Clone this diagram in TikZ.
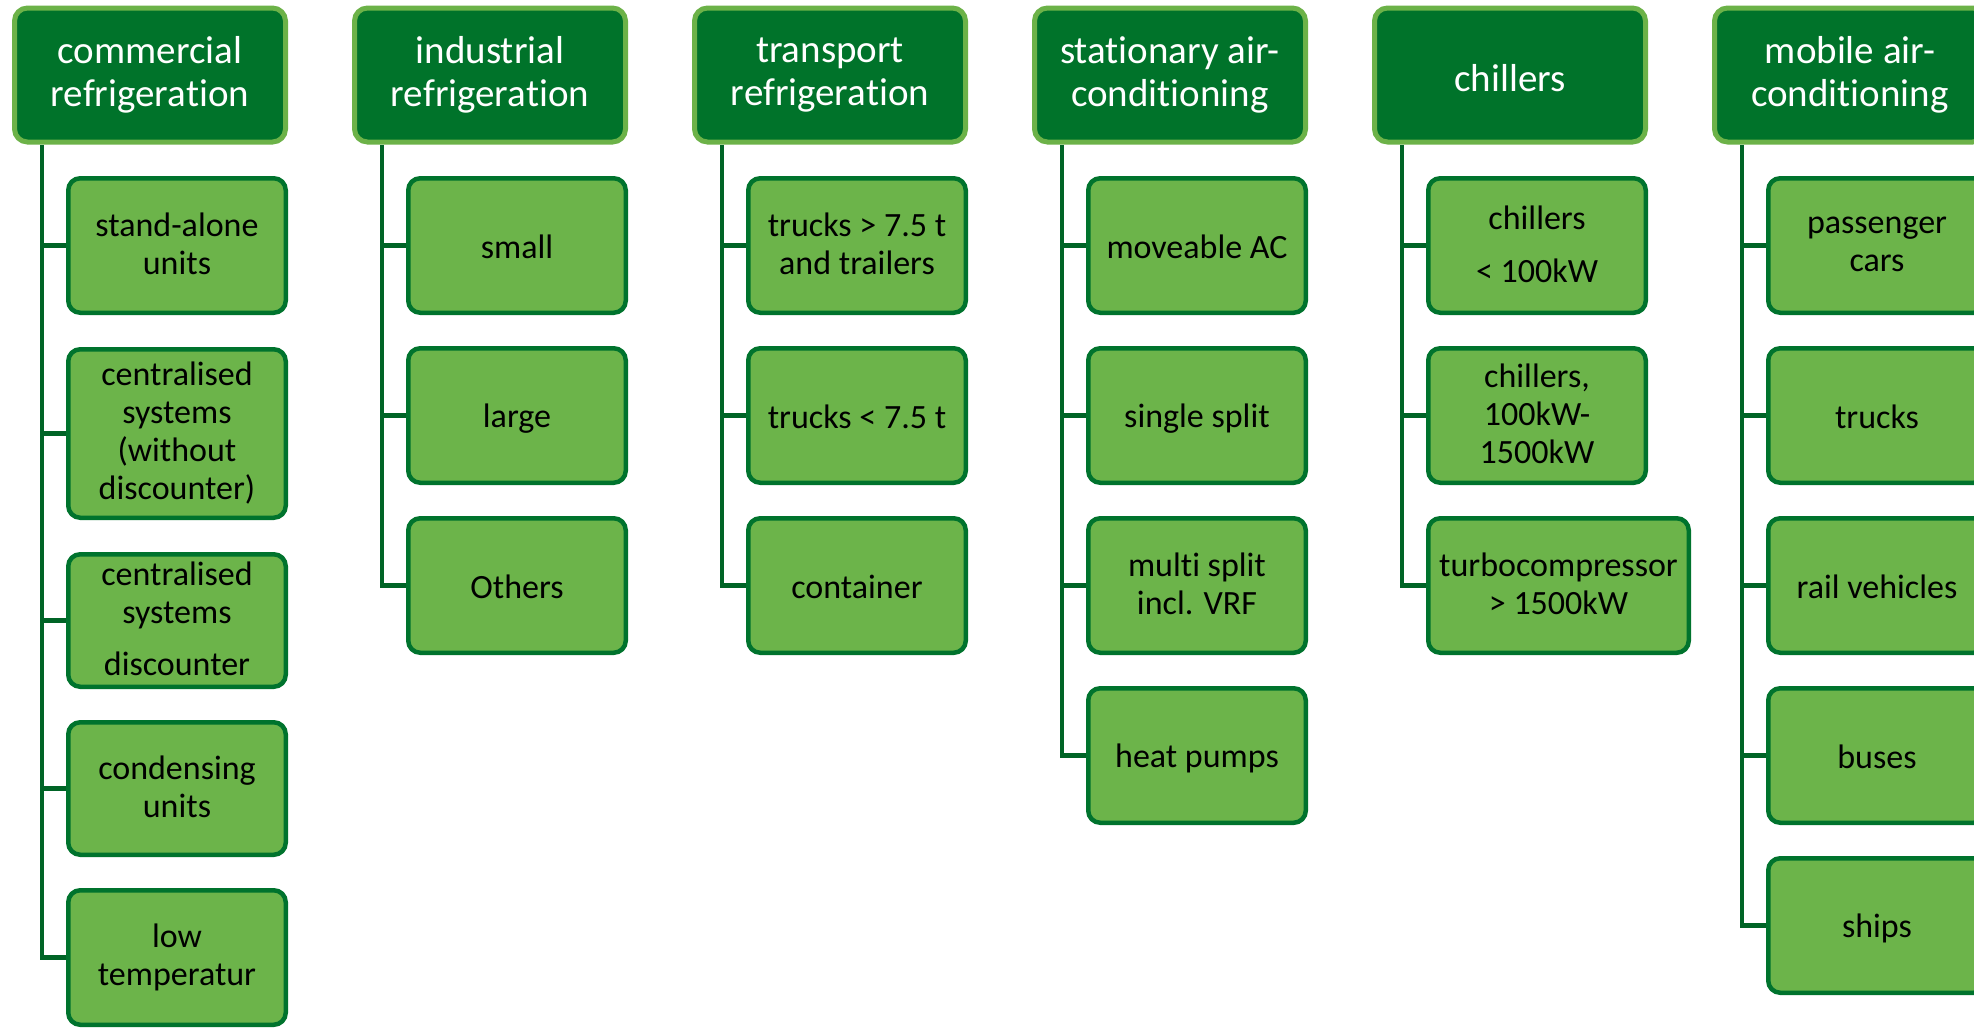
\documentclass[tikz,border=0pt]{standalone}
\usepackage{fontspec}
\setmainfont{Carlito}[Ligatures=NoCommon]
\definecolor{hdfill}{RGB}{0,115,42}
\definecolor{hdline}{RGB}{108,178,72}
\definecolor{itfill}{RGB}{108,180,74}
\definecolor{itline}{RGB}{0,115,45}
\definecolor{lnk}{RGB}{0,100,38}
\newcommand\mystrut{\rule[-0.1em]{0pt}{0.95em}}
\newcommand\hdstrut{\rule[-0.1em]{0pt}{1.05em}}
\tikzset{
  head/.style={rectangle, rounded corners=13pt, fill=hdfill, draw=hdline, line width=5pt,
    minimum width=271pt, minimum height=134pt, text=white,
    font=\fontsize{39}{43}\selectfont, align=center, inner sep=0pt,
    execute at begin node=\hdstrut, execute at end node=\mystrut},
  item/.style={rectangle, rounded corners=12pt, fill=itfill, draw=itline, line width=4.5pt,
    minimum width=217.5pt, minimum height=134.5pt, text=black,
    font=\fontsize{34}{38}\selectfont, align=center, inner sep=0pt,
    execute at begin node=\mystrut, execute at end node=\mystrut},
  link/.style={draw=lnk, line width=4.8pt}
}
\begin{document}
\begin{tikzpicture}[x=1pt,y=-1pt]
\useasboundingbox (0,0) rectangle (1974,1028);
\clip (0,0) rectangle (1974,1028);
\fill[white] (0,0) rectangle (1974,1028);

% column 0
\node[head] (h0) at (150,75) {commercial\\refrigeration};
\coordinate (v0) at (42,145);
\node[item] (c01) at (177,245.5) {stand-alone\\units};
\node[item, minimum height=168.5pt] (c02) at (177,433.5) {centralised\\systems\\(without\\discounter)};
\node[item, minimum height=132.5pt] (c03) at (177,620.5) {centralised\\systems\\[14pt]discounter};
\node[item, minimum height=132.5pt] (c04) at (177,788.5) {condensing\\units};
\node[item] (c05) at (177,957.5) {low\\temperatur};

% column 1
\node[head] (h1) at (490,75) {industrial\\refrigeration};
\coordinate (v1) at (382,145);
\node[item] (c11) at (517,245.5) {small};
\node[item] (c12) at (517,415.5) {large};
\node[item] (c13) at (517,585.5) {Others};

% column 2
\node[head] (h2) at (830,75) {transport\\refrigeration};
\coordinate (v2) at (722,145);
\node[item] (c21) at (857,245.5) {trucks > 7.5 t\\and trailers};
\node[item] (c22) at (857,415.5) {trucks < 7.5 t};
\node[item] (c23) at (857,585.5) {container};

% column 3
\node[head] (h3) at (1170,75) {stationary air-\\conditioning};
\coordinate (v3) at (1062,145);
\node[item] (c31) at (1197,245.5) {moveable AC};
\node[item] (c32) at (1197,415.5) {single split};
\node[item] (c33) at (1197,585.5) {multi split\\incl. VRF};
\node[item] (c34) at (1197,755.5) {heat pumps};

% column 4
\node[head] (h4) at (1510,75) {chillers};
\coordinate (v4) at (1402,145);
\node[item] (c41) at (1537,245.5) {chillers\\[15pt]< 100kW};
\node[item] (c42) at (1537,415.5) {chillers,\\100kW-\\1500kW};
\node[item, minimum width=260.5pt] (c43) at (1558.5,585.5) {turbocompressor\\> 1500kW};

% column 5
\node[head] (h5) at (1850,75) {mobile air-\\conditioning};
\coordinate (v5) at (1742,145);
\node[item] (c51) at (1877,245.5) {passenger\\cars};
\node[item] (c52) at (1877,415.5) {trucks};
\node[item] (c53) at (1877,585.5) {rail vehicles};
\node[item] (c54) at (1877,755.5) {buses};
\node[item] (c55) at (1877,925.5) {ships};

% connectors
\foreach \c in {c01,c02,c03,c04,c05} \draw[link] (v0) |- (\c.west);
\foreach \c in {c11,c12,c13} \draw[link] (v1) |- (\c.west);
\foreach \c in {c21,c22,c23} \draw[link] (v2) |- (\c.west);
\foreach \c in {c31,c32,c33,c34} \draw[link] (v3) |- (\c.west);
\foreach \c in {c41,c42,c43} \draw[link] (v4) |- (\c.west);
\foreach \c in {c51,c52,c53,c54,c55} \draw[link] (v5) |- (\c.west);
\end{tikzpicture}
\end{document}
